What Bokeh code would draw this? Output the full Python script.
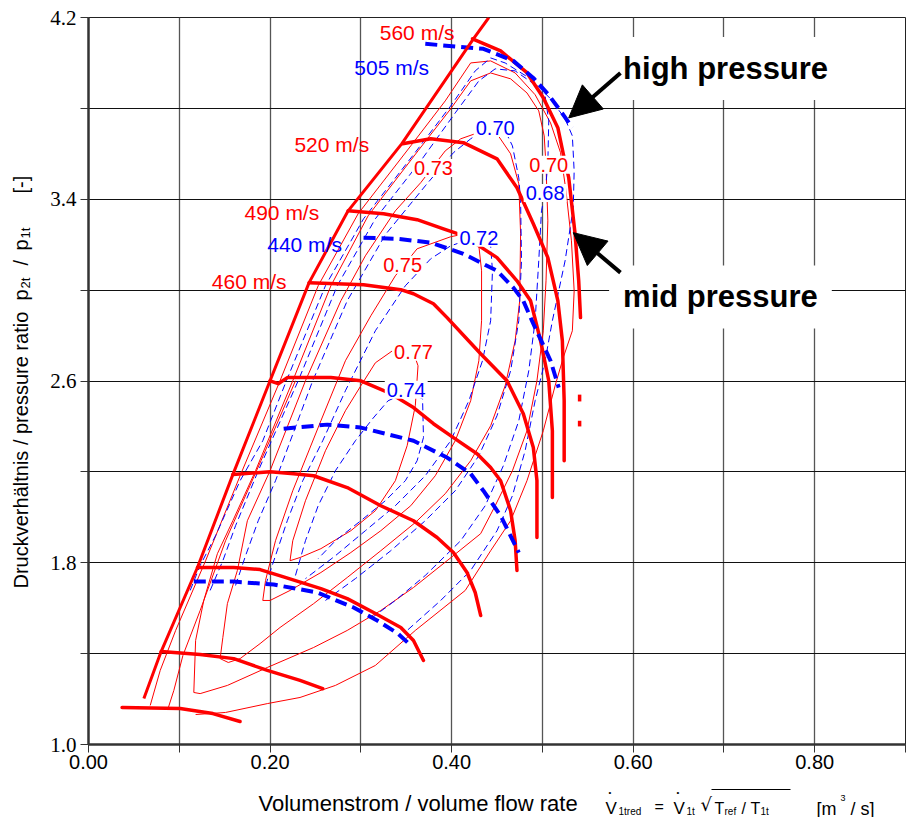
import math
from bokeh.plotting import figure
from bokeh.layouts import row, column
from bokeh.models import Range1d, FixedTicker, NumeralTickFormatter, Label, Arrow, NormalHead
from bokeh.embed import file_html
from bokeh.resources import INLINE

# ---------------- data ----------------
surge_x = [0.061, 0.080, 0.120, 0.159, 0.200, 0.243, 0.286, 0.345, 0.424, 0.441]
surge_y = [1.202, 1.409, 1.779, 2.188, 2.601, 3.033, 3.349, 3.644, 4.106, 4.200]

# red speed lines (thick, solid)
n560_x = [0.423, 0.454, 0.483, 0.501, 0.517, 0.523, 0.529, 0.536, 0.540, 0.542]
n560_y = [4.106, 4.053, 3.957, 3.847, 3.715, 3.600, 3.495, 3.248, 3.042, 2.879]
n520_x = [0.346, 0.377, 0.413, 0.450, 0.472, 0.490, 0.506, 0.517, 0.522, 0.524, 0.524]
n520_y = [3.644, 3.666, 3.649, 3.578, 3.451, 3.292, 3.143, 2.954, 2.777, 2.513, 2.249]
n490_x = [0.286, 0.325, 0.362, 0.391, 0.413, 0.450, 0.472, 0.487, 0.498, 0.507, 0.511, 0.511]
n490_y = [3.349, 3.336, 3.310, 3.270, 3.240, 3.143, 3.041, 2.953, 2.777, 2.601, 2.381, 2.087]
n460_x = [0.243, 0.303, 0.344, 0.358, 0.380, 0.395, 0.432, 0.461, 0.479, 0.490, 0.494, 0.494]
n460_y = [3.033, 3.024, 3.002, 2.984, 2.940, 2.879, 2.720, 2.601, 2.456, 2.307, 2.162, 1.911]
n430_x = [0.200, 0.209, 0.219, 0.267, 0.300, 0.333, 0.358, 0.380, 0.402, 0.428, 0.443, 0.454, 0.465, 0.470, 0.472]
n430_y = [2.601, 2.588, 2.615, 2.615, 2.601, 2.544, 2.483, 2.412, 2.351, 2.280, 2.219, 2.161, 2.029, 1.897, 1.766]
n400_x = [0.159, 0.200, 0.226, 0.248, 0.285, 0.322, 0.358, 0.384, 0.402, 0.417, 0.426, 0.432]
n400_y = [2.188, 2.201, 2.192, 2.183, 2.131, 2.051, 1.985, 1.911, 1.845, 1.757, 1.669, 1.568]
n350_x = [0.120, 0.160, 0.189, 0.214, 0.256, 0.285, 0.314, 0.344, 0.358, 0.369]
n350_y = [1.779, 1.779, 1.770, 1.739, 1.686, 1.642, 1.581, 1.515, 1.458, 1.370]
n300_x = [0.080, 0.123, 0.160, 0.197, 0.233, 0.258]
n300_y = [1.409, 1.396, 1.378, 1.326, 1.282, 1.246]
n250_x = [0.037, 0.101, 0.137, 0.167]
n250_y = [1.163, 1.158, 1.136, 1.101]

# blue speed lines (thick, dashed)
b505_x = [0.371, 0.435, 0.468, 0.490, 0.506, 0.520, 0.533]
b505_y = [4.084, 4.062, 4.009, 3.934, 3.864, 3.789, 3.715]
b440_x = [0.303, 0.340, 0.377, 0.413, 0.450, 0.468, 0.479, 0.490, 0.509, 0.518]
b440_y = [3.231, 3.226, 3.209, 3.160, 3.085, 3.011, 2.953, 2.852, 2.689, 2.571]
b380_x = [0.215, 0.263, 0.300, 0.358, 0.395, 0.421, 0.435, 0.454, 0.474]
b380_y = [2.390, 2.408, 2.395, 2.337, 2.263, 2.192, 2.117, 2.007, 1.845]
b320_x = [0.116, 0.160, 0.204, 0.252, 0.292, 0.318, 0.341, 0.355]
b320_y = [1.717, 1.717, 1.704, 1.669, 1.603, 1.546, 1.488, 1.436]

# red efficiency contours (thin, solid)
r_out_x = [0.068, 0.079, 0.096, 0.129, 0.167, 0.211, 0.253, 0.297, 0.355, 0.393, 0.421, 0.443, 0.470, 0.492,
           0.509, 0.520, 0.526, 0.532, 0.535, 0.533, 0.523, 0.514, 0.501, 0.483, 0.465, 0.443, 0.415, 0.360,
           0.316, 0.272, 0.233, 0.197, 0.151, 0.118]
r_out_y = [1.172, 1.326, 1.502, 1.809, 2.183, 2.601, 3.019, 3.336, 3.635, 3.833, 4.000, 4.009, 3.956, 3.860,
           3.736, 3.605, 3.437, 3.217, 2.997, 2.821, 2.703, 2.579, 2.381, 2.161, 1.985, 1.853, 1.678, 1.502,
           1.348, 1.260, 1.207, 1.180, 1.141, 1.132]
r_low_x = [0.088, 0.094, 0.104, 0.123, 0.151, 0.190, 0.228]
r_low_y = [1.163, 1.238, 1.392, 1.590, 1.897, 2.249, 2.601]
r070_x = [0.116, 0.118, 0.127, 0.142, 0.159, 0.184, 0.225, 0.267, 0.308, 0.363, 0.399, 0.421, 0.443, 0.465,
          0.483, 0.496, 0.502, 0.504, 0.506, 0.504, 0.501, 0.494, 0.483, 0.467, 0.448, 0.432, 0.395, 0.358,
          0.322, 0.285, 0.248, 0.197, 0.153, 0.123, 0.116]
r070_y = [1.229, 1.458, 1.634, 1.840, 1.985, 2.205, 2.601, 3.019, 3.327, 3.613, 3.798, 3.921, 3.956, 3.930,
          3.868, 3.789, 3.679, 3.547, 3.305, 3.041, 2.821, 2.601, 2.381, 2.205, 2.051, 1.928, 1.809, 1.691,
          1.590, 1.502, 1.427, 1.339, 1.260, 1.224, 1.229]
r073_x = [0.145, 0.148, 0.153, 0.164, 0.175, 0.200, 0.239, 0.278, 0.305, 0.338, 0.366, 0.393, 0.410, 0.432,
          0.450, 0.465, 0.474, 0.476, 0.475, 0.470, 0.459, 0.443, 0.421, 0.393, 0.360, 0.322, 0.285, 0.248,
          0.211, 0.189, 0.167, 0.154, 0.145]
r073_y = [1.378, 1.471, 1.620, 1.766, 1.985, 2.205, 2.601, 2.953, 3.151, 3.349, 3.473, 3.613, 3.666, 3.697,
          3.688, 3.600, 3.468, 3.248, 2.953, 2.777, 2.579, 2.403, 2.249, 2.104, 1.977, 1.853, 1.735, 1.620,
          1.515, 1.444, 1.378, 1.361, 1.378]
r075_x = [0.192, 0.195, 0.206, 0.225, 0.256, 0.283, 0.311, 0.338, 0.362, 0.399, 0.415, 0.430, 0.433, 0.433,
          0.430, 0.421, 0.404, 0.382, 0.355, 0.322, 0.289, 0.256, 0.222, 0.200, 0.192]
r075_y = [1.634, 1.722, 1.897, 2.117, 2.425, 2.689, 2.887, 3.063, 3.182, 3.235, 3.248, 3.195, 3.085, 2.865,
          2.689, 2.513, 2.337, 2.183, 2.051, 1.941, 1.845, 1.757, 1.678, 1.634, 1.634]
r077_x = [0.222, 0.225, 0.239, 0.261, 0.283, 0.300, 0.316, 0.338, 0.358, 0.363, 0.360, 0.351, 0.338, 0.316,
          0.289, 0.256, 0.233, 0.222]
r077_y = [1.809, 1.897, 2.073, 2.293, 2.469, 2.579, 2.680, 2.742, 2.725, 2.667, 2.491, 2.315, 2.161, 2.029,
          1.941, 1.862, 1.823, 1.809]

# blue efficiency contours (thin, dashed)
b_out_x = [0.112, 0.123, 0.140, 0.167, 0.192, 0.218, 0.261, 0.303, 0.357, 0.399, 0.426, 0.443, 0.459, 0.487,
           0.509, 0.525, 0.533, 0.535, 0.534, 0.525, 0.511, 0.503, 0.492, 0.481, 0.467, 0.450, 0.421, 0.388, 0.351]
b_out_y = [1.678, 1.788, 1.919, 2.161, 2.337, 2.601, 3.019, 3.314, 3.591, 3.811, 3.965, 4.022, 4.000, 3.930,
           3.842, 3.754, 3.679, 3.525, 3.362, 3.129, 2.865, 2.689, 2.513, 2.293, 2.095, 1.941, 1.766, 1.634, 1.502]
b068_x = [0.134, 0.148, 0.162, 0.187, 0.231, 0.274, 0.316, 0.366, 0.404, 0.430, 0.448, 0.470, 0.489, 0.503,
          0.507, 0.506, 0.503, 0.499, 0.496, 0.492, 0.485, 0.474, 0.457, 0.437, 0.410, 0.371, 0.338, 0.311]
b068_y = [1.678, 1.809, 1.963, 2.205, 2.601, 3.019, 3.314, 3.569, 3.780, 3.921, 3.974, 3.965, 3.912, 3.855,
          3.745, 3.556, 3.428, 3.349, 3.129, 2.865, 2.645, 2.425, 2.227, 2.051, 1.897, 1.744, 1.634, 1.554]
b070_x = [0.162, 0.173, 0.187, 0.206, 0.247, 0.285, 0.327, 0.371, 0.402, 0.421, 0.437, 0.459, 0.467, 0.474,
          0.476, 0.477, 0.474, 0.465, 0.450, 0.430, 0.404, 0.371, 0.333, 0.294, 0.261]
b070_y = [1.700, 1.831, 1.985, 2.161, 2.601, 2.953, 3.244, 3.459, 3.605, 3.666, 3.710, 3.701, 3.635, 3.494,
          3.393, 3.129, 2.865, 2.645, 2.447, 2.271, 2.117, 1.985, 1.853, 1.730, 1.634]
b072_x = [0.195, 0.206, 0.219, 0.236, 0.258, 0.283, 0.316, 0.349, 0.377, 0.399, 0.415, 0.443, 0.445, 0.443,
          0.434, 0.419, 0.399, 0.371, 0.338, 0.305, 0.272, 0.239]
b072_y = [1.700, 1.831, 1.985, 2.161, 2.337, 2.557, 2.821, 3.019, 3.138, 3.195, 3.217, 3.195, 3.085, 2.865,
          2.689, 2.513, 2.337, 2.183, 2.051, 1.941, 1.831, 1.730]
b074_x = [0.228, 0.239, 0.253, 0.272, 0.294, 0.313, 0.330, 0.350, 0.368, 0.369, 0.362, 0.349, 0.327, 0.300,
          0.272, 0.253]
b074_y = [1.744, 1.897, 2.051, 2.205, 2.337, 2.434, 2.513, 2.549, 2.522, 2.351, 2.249, 2.161, 2.073, 1.985,
          1.897, 1.818]

# two small red marks right of the 560 m/s line
mark_x = [[0.541, 0.541], [0.541, 0.541]]
mark_y = [[2.540, 2.510], [2.425, 2.400]]

# labels
speed_red = [("560 m/s", 0.362, 4.132), ("520 m/s", 0.268, 3.640), ("490 m/s", 0.213, 3.341), ("460 m/s", 0.177, 3.037)]
speed_blue = [("505 m/s", 0.334, 3.978), ("440 m/s", 0.238, 3.200)]
eff_red = [("0.73", 0.380, 3.538), ("0.75", 0.346, 3.112), ("0.77", 0.358, 2.729), ("0.70", 0.507, 3.552)]
eff_blue = [("0.70", 0.448, 3.714), ("0.68", 0.503, 3.428), ("0.72", 0.430, 3.231), ("0.74", 0.350, 2.562)]

x_major = [0.0, 0.2, 0.4, 0.6, 0.8]
x_minor = [0.1, 0.3, 0.5, 0.7, 0.9]
x_grid = [0.1, 0.2, 0.3, 0.4, 0.5, 0.6, 0.7, 0.8]
y_major = [1.0, 1.8, 2.6, 3.4, 4.2]
y_minor = [1.4, 2.2, 3.0, 3.8]
y_grid = [1.4, 1.8, 2.2, 2.6, 3.0, 3.4, 3.8]

RED = "#ff0000"
BLUE = "#0000ff"
SANS = "Liberation Sans"

# ---------------- main chart ----------------
p = figure(frame_width=817, frame_height=727, x_range=Range1d(0, 0.9), y_range=Range1d(1.0, 4.2),
           output_backend="svg", toolbar_location=None, title=None,
           min_border_left=44, min_border_right=3, min_border_top=17, min_border_bottom=38)
p.background_fill_color = "white"
p.border_fill_color = "white"
p.outline_line_color = "#222222"
p.outline_line_width = 1

p.xgrid.ticker = FixedTicker(ticks=x_grid)
p.ygrid.ticker = FixedTicker(ticks=y_grid)
p.xgrid.grid_line_color = "#555555"
p.xgrid.grid_line_width = 1.3
p.ygrid.grid_line_color = "#111111"
p.ygrid.grid_line_width = 1

p.xaxis.ticker = FixedTicker(ticks=x_major, minor_ticks=x_minor)
p.xaxis.formatter = NumeralTickFormatter(format="0.00")
p.yaxis.ticker = FixedTicker(ticks=y_major, minor_ticks=y_minor)
p.yaxis.formatter = NumeralTickFormatter(format="0.0")
for ax in (p.xaxis[0], p.yaxis[0]):
    ax.axis_line_color = "#333333"
    ax.axis_line_width = 2.5
    ax.major_tick_line_color = "#333333"
    ax.minor_tick_line_color = "#333333"
    ax.major_tick_in = 0
    ax.minor_tick_in = 0
    ax.major_tick_out = 8
    ax.minor_tick_out = 8
    ax.major_label_text_color = "black"
p.xaxis.major_label_text_font = SANS
p.xaxis.major_label_text_font_size = "20px"
p.xaxis.major_label_standoff = 2
p.yaxis.major_label_text_font = "Liberation Serif"
p.yaxis.major_label_text_font_size = "21px"
p.yaxis.major_label_standoff = 4

for xs, ys in [(r_out_x, r_out_y), (r_low_x, r_low_y), (r070_x, r070_y), (r073_x, r073_y),
               (r075_x, r075_y), (r077_x, r077_y)]:
    p.line(xs, ys, line_color=RED, line_width=1)
for xs, ys in [(b_out_x, b_out_y), (b068_x, b068_y), (b070_x, b070_y), (b072_x, b072_y), (b074_x, b074_y)]:
    p.line(xs, ys, line_color=BLUE, line_width=1, line_dash="7 4")

for xs, ys in [(n560_x, n560_y), (n520_x, n520_y), (n490_x, n490_y), (n460_x, n460_y), (n430_x, n430_y),
               (n400_x, n400_y), (n350_x, n350_y), (n300_x, n300_y), (n250_x, n250_y)]:
    p.line(xs, ys, line_color=RED, line_width=3.5, line_cap="round", line_join="round")
for xs, ys in [(b505_x, b505_y), (b440_x, b440_y), (b380_x, b380_y), (b320_x, b320_y)]:
    p.line(xs, ys, line_color=BLUE, line_width=4, line_dash="12 6")
p.line(surge_x, surge_y, line_color=RED, line_width=3, line_join="round")
p.multi_line(mark_x, mark_y, line_color=RED, line_width=3.5)

for t, x, y in speed_red:
    p.add_layout(Label(x=x, y=y, text=t, text_color=RED, text_font=SANS, text_font_size="21px",
                       text_align="center", text_baseline="middle"))
for t, x, y in speed_blue:
    p.add_layout(Label(x=x, y=y, text=t, text_color=BLUE, text_font=SANS, text_font_size="21px",
                       text_align="center", text_baseline="middle"))
for t, x, y in eff_red:
    p.add_layout(Label(x=x, y=y, text=t, text_color=RED, text_font=SANS, text_font_size="20px",
                       text_align="center", text_baseline="middle", background_fill_color="white", padding=2))
for t, x, y in eff_blue:
    p.add_layout(Label(x=x, y=y, text=t, text_color=BLUE, text_font=SANS, text_font_size="20px",
                       text_align="center", text_baseline="middle", background_fill_color="white", padding=2))

p.add_layout(Label(x=0.5735, y=3.975, text="high pressure", text_color="black", text_font=SANS,
                   text_font_size="31px", text_font_style="bold", text_align="left", text_baseline="middle",
                   background_fill_color="white", padding=14))
p.add_layout(Label(x=0.5735, y=2.97, text="mid pressure", text_color="black", text_font=SANS,
                   text_font_size="31px", text_font_style="bold", text_align="left", text_baseline="middle",
                   background_fill_color="white", padding=14))
p.add_layout(Arrow(end=NormalHead(size=32, fill_color="black", line_color="black"),
                   x_start=0.586, y_start=3.956, x_end=0.529, y_end=3.758, line_width=4, line_color="black"))
p.add_layout(Arrow(end=NormalHead(size=32, fill_color="black", line_color="black"),
                   x_start=0.586, y_start=3.077, x_end=0.534, y_end=3.253, line_width=4, line_color="black"))


def style_bare(f):
    f.grid.visible = False
    f.outline_line_color = None
    f.background_fill_color = "white"
    f.border_fill_color = "white"
    return f


def txt(f, x, y, t, size, angle=0.0, align="left", baseline="alphabetic", font=SANS):
    f.add_layout(Label(x=x, y=y, text=t, text_font=font, text_font_size=f"{size}px", text_color="black",
                       angle=angle, text_align=align, text_baseline=baseline))


# ---------------- y-axis title strip (left) ----------------
yf = style_bare(figure(width=44, height=817, x_range=Range1d(0, 44), y_range=Range1d(0, 817), title=None,
                       output_backend="svg", toolbar_location=None, x_axis_type=None, y_axis_type=None,
                       min_border=0, min_border_left=0, min_border_right=0, min_border_top=0, min_border_bottom=0))
A = math.pi / 2
txt(yf, 20, 229, "Druckverhältnis / pressure ratio", 20, A, baseline="middle")
txt(yf, 20, 517, "p", 20, A, baseline="middle")
txt(yf, 25, 529, "2t", 13, A, baseline="middle")
txt(yf, 20, 552, "/", 20, A, baseline="middle")
txt(yf, 20, 567, "p", 20, A, baseline="middle")
txt(yf, 25, 579, "1t", 13, A, baseline="middle")
txt(yf, 20, 624, "[-]", 20, A, baseline="middle")

# ---------------- x-axis title strip (bottom); its frame is aligned with the chart frame ----------------
xf = style_bare(figure(frame_width=817, frame_height=35, x_range=Range1d(88, 905), y_range=Range1d(0, 35),
                       title=None, output_backend="svg", toolbar_location=None, x_axis_type=None,
                       y_axis_type=None, min_border=0, min_border_left=44, min_border_right=3,
                       min_border_top=0, min_border_bottom=0))
txt(xf, 258, 14, "Volumenstrom / volume flow rate", 22)
txt(xf, 605, 9, "V", 17)
txt(xf, 608, 25, "•", 8)
txt(xf, 618, 6, "1tred", 10)
txt(xf, 654, 11, "=", 16)
txt(xf, 673, 9, "V", 17)
txt(xf, 676, 25, "•", 8)
txt(xf, 686, 6, "1t", 10)
txt(xf, 700, 13, "√", 18, font="DejaVu Sans")
txt(xf, 714, 9, "T", 16)
txt(xf, 724, 6, "ref", 10)
txt(xf, 741, 9, "/", 16)
txt(xf, 750, 9, "T", 16)
txt(xf, 760, 6, "1t", 10)
txt(xf, 816, 9, "[m", 18)
txt(xf, 840, 20, "3", 9)
txt(xf, 850, 9, "/ s]", 18)
xf.line([711, 790], [28, 28], line_color="black", line_width=1)

layout = row(yf, column(p, xf))
open("out.html", "w").write(file_html(layout, INLINE))
